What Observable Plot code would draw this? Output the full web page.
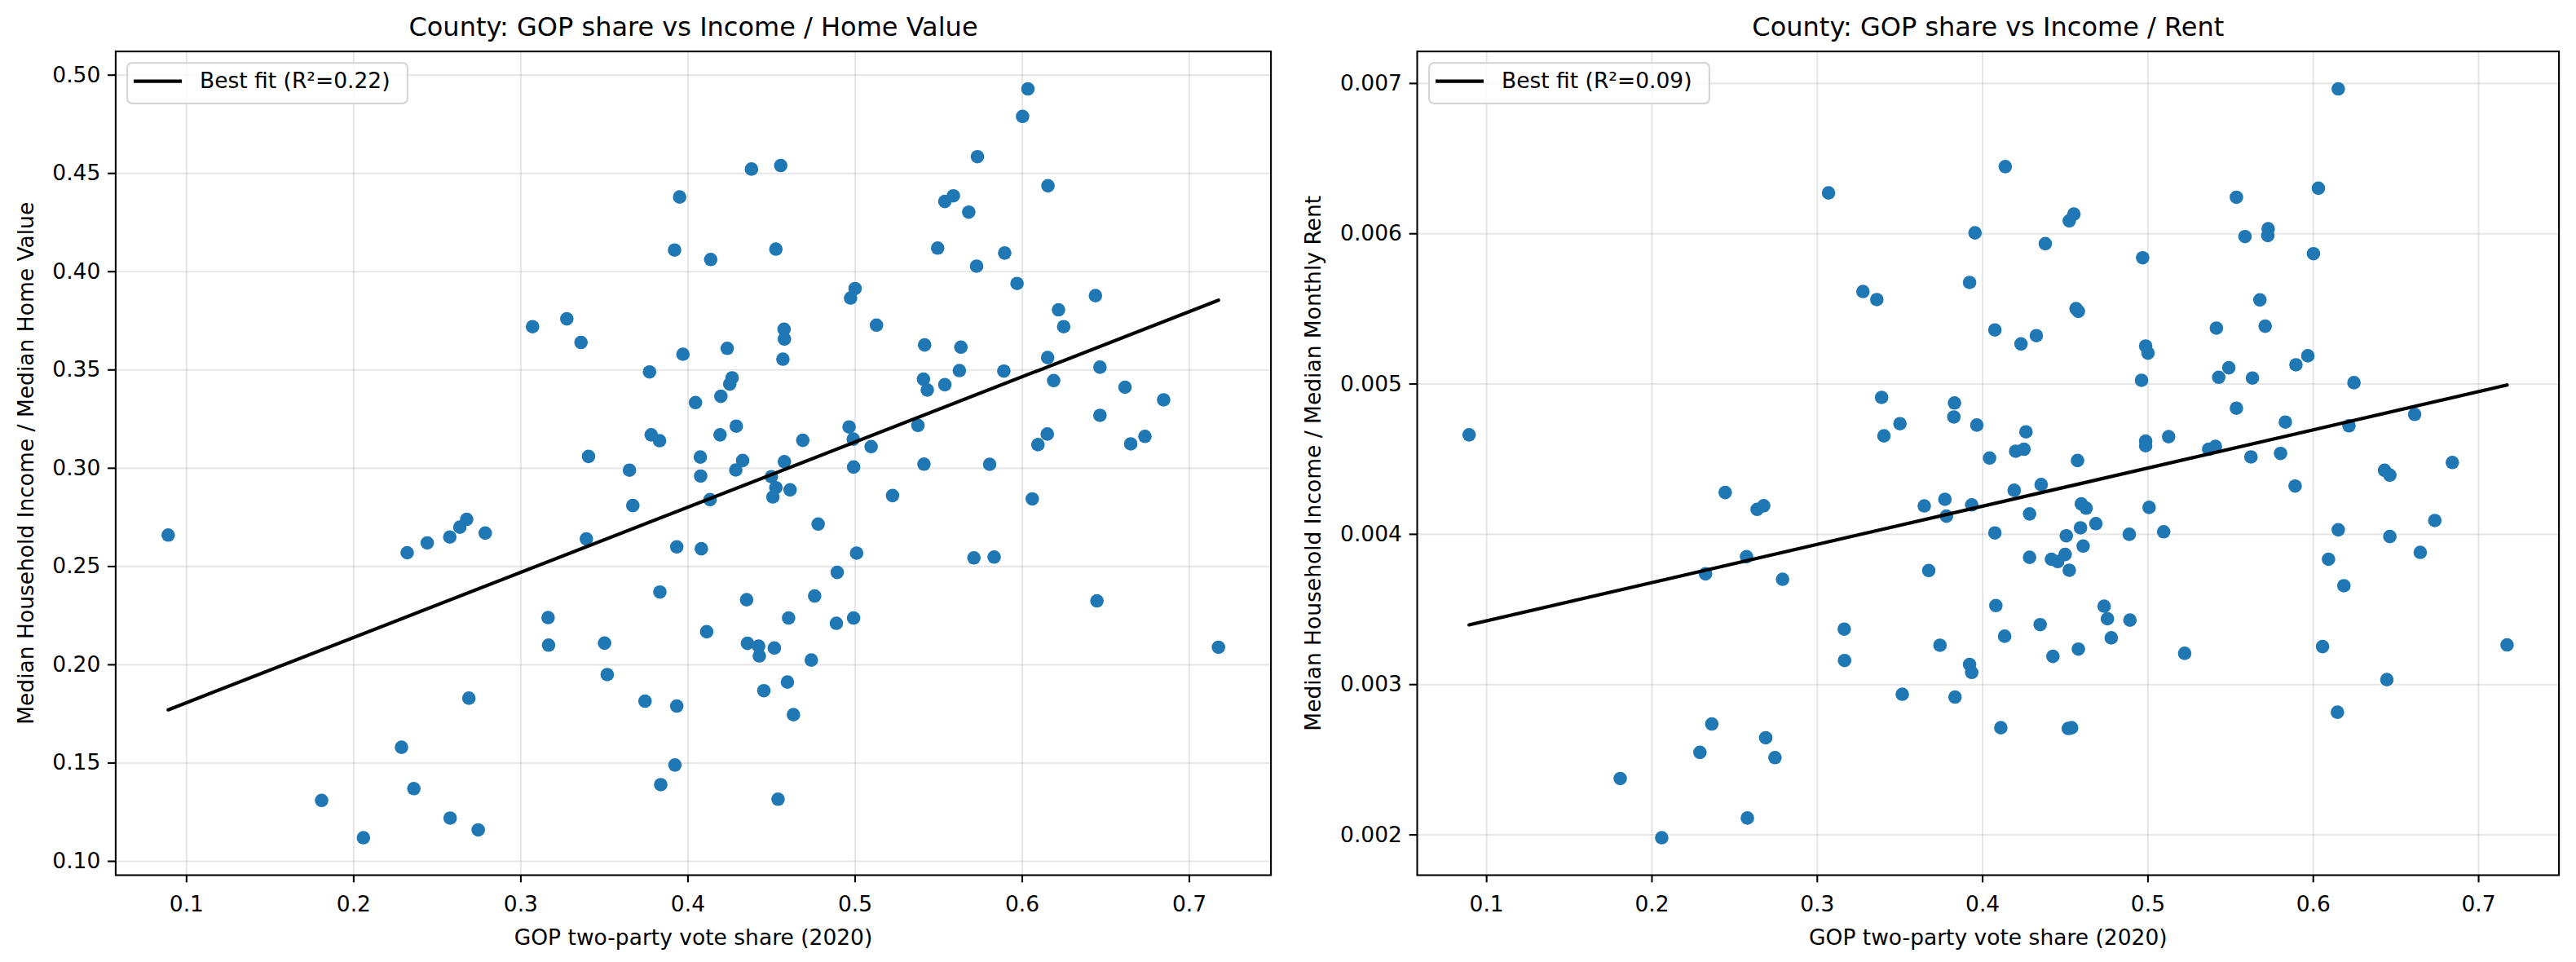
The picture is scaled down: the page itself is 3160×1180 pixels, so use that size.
<!DOCTYPE html>
<html>
<head>
<meta charset="utf-8">
<script src="https://cdn.jsdelivr.net/npm/d3@7"></script>
<script src="https://cdn.jsdelivr.net/npm/@observablehq/plot@0.6"></script>
<style>
  html, body { margin: 0; padding: 0; background: #fff; }
  #fig { display: flex; width: 3160px; height: 1180px; }
  .panel { position: relative; width: 1580px; height: 1180px; }
  .legend { position: absolute; }
</style>
</head>
<body>
<div id="fig"></div>
<script>
// ---------- Data ----------
const homeShare = [
  0.395,0.392,0.307,0.3275,0.336,0.397,0.377,0.378,0.383,
  0.3405,0.365,0.367,0.089,0.232,0.244,0.2575,0.2635,0.2676,0.2787,0.3392,0.3933,0.3832,0.3163,0.3166,0.3501,0.3517,0.2689,0.3743,0.3933,0.2286,0.3922,0.3837,0.236,0.1808,0.2577,0.2745,0.2058,
  0.6034,0.6002,0.5732,0.438,0.4555,0.6154,0.5588,0.5537,0.568,0.4526,0.4136,0.5494,0.5895,0.5727,0.5969,0.5,0.4973,0.6438,0.6217,0.6248,0.5128,0.4575,0.4577,0.4235,0.4568,0.5416,0.5633,0.6152,0.4264,0.425,0.4045,0.4197,0.5409,0.5432,0.5537,0.5624,0.589,0.6188,0.6465,0.6615,0.6846,0.6465,0.4289,0.4192,0.4964,0.5376,0.615,0.6734,0.4687,0.4989,
  0.6094,0.6649,0.5096,0.4074,0.4327,0.4286,0.4577,0.4991,0.5412,0.5805,0.4076,0.4499,0.4526,0.4611,0.4508,0.4132,0.5224,0.606,0.4779,0.408,0.5009,0.5711,0.5832,0.4893,0.4758,0.4351,0.6447,0.4602,0.4888,0.4991,0.4112,0.4356,0.4423,0.4427,0.4517,0.4738,0.7174,0.4595,0.4454,0.4631,0.4539
];
const homeRatio = [
  0.438,0.411,0.372,0.376,0.364,0.358,0.349,0.317,0.314,
  0.306,0.299,0.281,0.266,0.257,0.262,0.265,0.270,0.274,0.267,0.264,0.260,0.237,0.224,0.210,0.211,0.195,0.183,0.1815,0.179,0.158,0.149,0.139,0.137,0.131,0.122,0.116,0.112,
  0.493,0.479,0.4585,0.4522,0.454,0.4437,0.4386,0.4357,0.4303,0.4115,0.4062,0.412,0.4095,0.4028,0.394,0.3914,0.3866,0.3878,0.3806,0.372,0.3728,0.3707,0.3657,0.361,0.3555,0.3627,0.3616,0.3563,0.346,0.3428,0.3334,0.3366,0.3453,0.3398,0.3425,0.3497,0.3494,0.3446,0.3514,0.3412,0.3348,0.3269,0.3214,0.317,0.321,0.3218,0.3174,0.3162,0.3142,0.3148,
  0.312,0.3124,0.311,0.3057,0.3039,0.2991,0.3033,0.3006,0.3021,0.302,0.296,0.2957,0.2901,0.289,0.2854,0.284,0.2861,0.2844,0.2716,0.259,0.2568,0.2544,0.2548,0.247,0.235,0.2331,0.2325,0.2238,0.2211,0.2238,0.2168,0.2109,0.2095,0.2045,0.2085,0.2024,0.2089,0.1912,0.1868,0.1746,0.1316
];
const rentShare = [
  0.3068,0.3954,0.3921,0.3276,0.336,0.3389,0.383,0.3826,0.35,0.3965,0.3403,0.0894,
  0.2443,0.2636,0.2676,0.3647,0.3772,0.3781,0.3934,0.2572,0.2324,0.279,0.3674,0.3163,0.3165,0.3742,0.3921,0.3934,0.3514,0.3833,0.2362,0.2688,0.229,0.2744,0.1808,0.2577,0.2059,
  0.6151,0.4137,0.6031,0.5535,0.4552,0.4524,0.4379,0.5727,0.5725,0.5587,0.4968,0.6001,0.5677,0.4565,0.4579,0.5414,0.5709,0.4074,0.4232,0.4325,0.4986,0.5,0.5967,0.5895,0.5489,0.5428,0.5632,0.4961,0.6246,0.5535,0.5831,0.6613,0.6216,0.4262,0.5125,0.4986,0.4986,
  0.42,0.425,0.4042,0.4574,0.5367,0.5408,0.5623,0.5802,0.6841,0.6431,0.6463,0.589,0.4191,0.4354,0.4284,0.4597,0.4626,0.5007,0.4685,0.4592,0.4074,0.4506,0.4887,0.5095,0.4608,0.4499,0.4416,0.4454,0.4284,0.4524,0.6151,0.6463,0.6735,0.6647,0.6092,0.6185,0.408,0.4735,0.4755,0.4891,0.4348,0.4133,0.4778,0.4579,0.4425,0.5222,0.6056,0.7172,0.6445,0.6146,0.411,0.4518,0.4538
];
const rentRatio = [
  0.006272,0.006006,0.005676,0.005616,0.005562,0.004911,0.004874,0.004781,0.004736,0.004727,0.004655,0.004662,
  0.004278,0.004166,0.00419,0.004189,0.004233,0.004121,0.004196,0.003851,0.003737,0.003701,0.003759,0.003369,0.00316,0.003262,0.003134,0.003081,0.002936,0.002917,0.002738,0.002646,0.002549,0.002514,0.002375,0.002112,0.001981,
  0.006964,0.006447,0.006303,0.006243,0.006131,0.006086,0.005934,0.006033,0.005988,0.005981,0.00584,0.005867,0.00556,0.005502,0.005484,0.005372,0.005385,0.00536,0.005267,0.005322,0.005253,0.005206,0.005188,0.005128,0.005108,0.005045,0.00504,0.005025,0.005009,0.004839,0.004747,0.004798,0.004722,0.004682,0.00465,0.00462,0.00459,
  0.004553,0.004566,0.004508,0.004491,0.004566,0.004585,0.004515,0.004538,0.004478,0.004426,0.004394,0.004321,0.004293,0.004331,0.004136,0.004202,0.004174,0.004179,0.004071,0.004043,0.004009,0.00399,0.004,0.004017,0.003922,0.003866,0.003834,0.003819,0.003847,0.003761,0.00403,0.003985,0.004092,0.00388,0.003834,0.003658,0.003526,0.003522,0.003438,0.003429,0.003399,0.003322,0.003311,0.003236,0.003188,0.003208,0.003253,0.003264,0.003033,0.002816,0.002713,0.002708,0.002713
];

const xTicks = [0.1, 0.2, 0.3, 0.4, 0.5, 0.6, 0.7];
const homeTicks = [0.10, 0.15, 0.20, 0.25, 0.30, 0.35, 0.40, 0.45, 0.50];
const rentTicks = [0.002, 0.003, 0.004, 0.005, 0.006, 0.007];

const titles = ["County: GOP share vs Income / Home Value", "County: GOP share vs Income / Rent"];
const yLabels = ["Median Household Income / Median Home Value", "Median Household Income / Median Monthly Rent"];
const xLabel = "GOP two-party vote share (2020)";
const legendLabels = ["Best fit (R\u00b2=0.22)", "Best fit (R\u00b2=0.09)"];

// ---------- Drawing ----------
const FONT = "'DejaVu Sans', 'Liberation Sans', sans-serif";
const MT = 62.6, MB = 107, MR = 21.4;

function padded(values) {
  const [a, b] = d3.extent(values);
  const r = b - a;
  return [a - 0.05 * r, b + 0.05 * r];
}

function panel({xs, ys, yTicks, yFormat, title, ylabel, legend, marginLeft, ylabelDx}) {
  const data = xs.map((x, i) => ({x, y: ys[i]}));
  const grid = {stroke: "#b0b0b0", strokeOpacity: 0.3, strokeWidth: 2.1};
  const svg = Plot.plot({
    width: 1580,
    height: 1180,
    marginLeft, marginRight: MR, marginTop: MT, marginBottom: MB,
    style: {fontFamily: FONT, fontSize: "26.5px", color: "black", background: "white", overflow: "visible"},
    x: {domain: padded(xs)},
    y: {domain: padded(ys)},
    marks: [
      Plot.gridX(xTicks, grid),
      Plot.gridY(yTicks, grid),
      Plot.dot(data, {x: "x", y: "y", r: 8.3, fill: "#1f77b4", stroke: "none"}),
      Plot.linearRegressionY(data, {x: "x", y: "y", stroke: "black", strokeWidth: 4.2, ci: 0}),
      Plot.frame({stroke: "black", strokeWidth: 2.1}),
      Plot.axisX(xTicks, {tickSize: 9.3, tickPadding: 16, strokeWidth: 2.1, label: null, tickFormat: d3.format(".1f")}),
      Plot.axisY(yTicks, {tickSize: 9.3, tickPadding: 9.3, strokeWidth: 2.1, label: null, tickFormat: yFormat}),
      Plot.text([title], {text: d => d, frameAnchor: "top", dy: -29, fontSize: 32, lineAnchor: "middle", textAnchor: "middle"}),
      Plot.text([xLabel], {text: d => d, frameAnchor: "bottom", dy: 77, lineAnchor: "middle", textAnchor: "middle"}),
      Plot.text([ylabel], {text: d => d, frameAnchor: "left", dx: ylabelDx, rotate: -90, lineAnchor: "middle", textAnchor: "middle"})
    ]
  });

  const wrap = document.createElement("div");
  wrap.className = "panel";
  wrap.appendChild(svg);

  // legend (upper left, inside the axes)
  const lg = d3.create("svg")
    .attr("class", "legend")
    .attr("width", 346).attr("height", 52)
    .style("left", (marginLeft + 13.5) + "px")
    .style("top", (MT + 13.5) + "px")
    .style("font-family", FONT);
  lg.append("rect")
    .attr("x", 1.1).attr("y", 1.1).attr("width", 343.8).attr("height", 49.8)
    .attr("rx", 6).attr("fill", "white").attr("fill-opacity", 0.8)
    .attr("stroke", "#d6d6d6").attr("stroke-width", 2.2);
  lg.append("line")
    .attr("x1", 9).attr("x2", 68).attr("y1", 23.7).attr("y2", 23.7)
    .attr("stroke", "black").attr("stroke-width", 4.2);
  lg.append("text")
    .attr("x", 90).attr("y", 23.2).attr("dy", "0.35em")
    .attr("font-size", 26.5).attr("fill", "black")
    .text(legend);
  wrap.appendChild(lg.node());
  return wrap;
}

const fig = document.getElementById("fig");
fig.appendChild(panel({
  xs: homeShare, ys: homeRatio, yTicks: homeTicks, yFormat: d3.format(".2f"),
  title: titles[0], ylabel: yLabels[0], legend: legendLabels[0],
  marginLeft: 141.4, ylabelDx: -109
}));
fig.appendChild(panel({
  xs: rentShare, ys: rentRatio, yTicks: rentTicks, yFormat: d3.format(".3f"),
  title: titles[1], ylabel: yLabels[1], legend: legendLabels[1],
  marginLeft: 158, ylabelDx: -127
}));
</script>
</body>
</html>
